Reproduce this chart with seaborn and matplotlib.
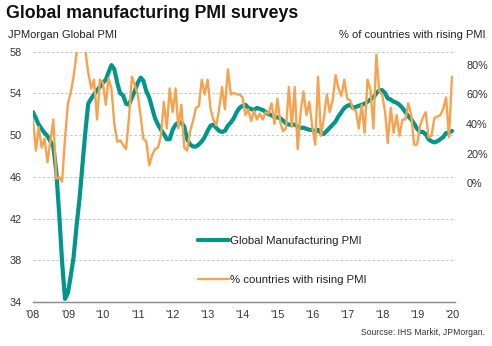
import matplotlib
matplotlib.use("Agg")
import matplotlib.pyplot as plt
import matplotlib.dates as mdates
from matplotlib.ticker import FuncFormatter, FixedLocator
import pandas as pd
import seaborn as sns

# Monthly series, Jan 2008 - Jan 2020
start_month = "2008-01-01"

pmi = [
    52.2, 51.6, 51.0, 50.6, 50.2, 49.9, 49.4, 48.9, 46.5, 42.5, 37.8, 34.3,
    34.9, 36.6, 38.3, 41.3, 43.8, 47.0, 50.2, 53.0, 53.5, 53.9, 54.3, 54.6,
    55.0, 55.3, 56.0, 56.7, 56.3, 55.0, 54.0, 53.8, 53.0, 52.9, 53.6, 54.2,
    55.0, 55.5, 55.2, 54.2, 53.6, 52.6, 51.6, 51.0, 50.5, 50.1, 49.6, 49.6,
    50.5, 51.0, 51.2, 51.2, 50.8, 49.6, 49.1, 48.9, 48.9, 49.1, 49.4, 49.8,
    50.4, 50.9, 51.0, 50.7, 50.4, 50.3, 50.4, 50.9, 51.2, 51.6, 52.2, 52.6,
    52.8, 52.9, 52.6, 52.5, 52.4, 52.6, 52.5, 52.4, 52.2, 52.0, 51.9, 51.7,
    51.7, 51.6, 51.4, 51.1, 51.0, 51.0, 51.0, 50.8, 50.7, 50.7, 50.6, 50.5,
    50.5, 50.3, 50.5, 50.2, 50.1, 50.4, 50.7, 51.0, 51.3, 51.8, 52.2, 52.6,
    52.8, 52.9, 52.6, 52.7, 52.8, 52.9, 53.0, 53.2, 53.4, 53.6, 54.0, 54.3,
    54.3, 54.0, 53.5, 53.4, 53.2, 53.1, 52.9, 52.6, 52.2, 51.8, 51.5, 51.1,
    50.6, 50.3, 50.3, 50.1, 49.6, 49.4, 49.3, 49.4, 49.6, 49.8, 50.2, 50.2,
    50.4,
]

rising_pct = [
    43, 22, 38, 24, 30, 14, 28, 43, 3, 4, 1, 30,
    54, 62, 72, 88, 96, 97, 90, 75, 64, 70, 43, 70,
    68, 53, 71, 64, 40, 28, 29, 26, 23, 44, 72, 66,
    60, 45, 30, 28, 12, 19, 23, 24, 32, 55, 37, 64,
    48, 64, 37, 53, 24, 22, 35, 42, 51, 52, 70, 60,
    70, 50, 43, 39, 50, 65, 50, 77, 60, 61, 60, 60,
    58, 46, 50, 42, 49, 43, 47, 43, 48, 47, 54, 40,
    57, 41, 35, 37, 65, 38, 65, 23, 48, 62, 46, 55,
    38, 26, 72, 32, 44, 60, 48, 56, 73, 64, 59, 70,
    57, 56, 50, 49, 37, 53, 34, 70, 63, 37, 87, 62,
    60, 48, 27, 51, 34, 46, 32, 43, 43, 54, 46, 26,
    26, 39, 44, 48, 31, 32, 44, 45, 46, 50, 58, 31,
    72,
]

left_ticks = [34, 38, 42, 46, 50, 54, 58]
right_ticks = [0, 20, 40, 60, 80]

TEAL = "#00978A"
ORANGE = "#F7A24E"
GRID = "#BDBDBD"
TXT = "#333333"

df = pd.DataFrame({
    "date": pd.date_range(start_month, periods=len(pmi), freq="MS"),
    "pmi": pmi,
    "rising": rising_pct,
})

sns.set_theme(style="white")
plt.rcParams["font.family"] = ["Liberation Sans", "DejaVu Sans"]

fig = plt.figure(figsize=(4.92, 3.46), dpi=100)
ax = fig.add_axes([0.067, 0.127, 0.858, 0.724])

sns.lineplot(data=df, x="date", y="pmi", ax=ax, color=TEAL, linewidth=3.0,
             label="Global Manufacturing PMI", legend=False)
ax.set_ylim(34, 58)
ax.set_xlim(pd.Timestamp("2008-01-01"), pd.Timestamp("2020-02-03"))
ax.yaxis.set_major_locator(FixedLocator(left_ticks))
ax.set_xlabel("")
ax.set_ylabel("")
for y in left_ticks[1:]:
    ax.axhline(y, color=GRID, lw=0.6, ls=(0, (3, 2.5)), zorder=0)

ax2 = ax.twinx()
sns.lineplot(data=df, x="date", y="rising", ax=ax2, color=ORANGE, linewidth=1.7,
             label="% countries with rising PMI", legend=False)
ax2.set_ylim(-80.5, 89)
ax2.yaxis.set_major_locator(FixedLocator(right_ticks))
ax2.yaxis.set_major_formatter(FuncFormatter(lambda v, p: f"{v:.0f}%"))
ax2.set_ylabel("")

ax.xaxis.set_major_locator(mdates.YearLocator())
ax.xaxis.set_major_formatter(mdates.DateFormatter("'%y"))

for a in (ax, ax2):
    for s in ("top", "left", "right"):
        a.spines[s].set_visible(False)
    a.spines["bottom"].set_color("#8C8C8C")
    a.spines["bottom"].set_linewidth(0.9)
    a.grid(False)

ax.tick_params(axis="y", length=0, pad=8, labelsize=7.8, labelcolor=TXT)
ax2.tick_params(axis="y", length=0, pad=8, labelsize=7.8, labelcolor=TXT)
ax.tick_params(axis="x", length=3, width=0.8, color="#8C8C8C", direction="out",
               pad=3, labelsize=7.8, labelcolor=TXT)

h1, l1 = ax.get_legend_handles_labels()
h2, l2 = ax2.get_legend_handles_labels()
leg = ax2.legend(h1 + h2, l1 + l2, loc="upper left",
                 bbox_to_anchor=(0.402, 0.318), bbox_transform=fig.transFigure,
                 frameon=False, fontsize=8.2, handlelength=2.7,
                 handletextpad=0.1, labelspacing=2.55, borderpad=0, borderaxespad=0)
for t in leg.get_texts():
    t.set_color("#222222")

fig.text(0.012, 0.962, "Global manufacturing PMI surveys", fontsize=12.8,
         fontweight="bold", color="#111111", va="center", ha="left")
fig.text(0.016, 0.900, "JPMorgan Global PMI", fontsize=8.0, color="#222222",
         va="center", ha="left")
fig.text(0.986, 0.900, "% of countries with rising PMI", fontsize=8.0,
         color="#222222", va="center", ha="right")
fig.text(0.986, 0.038, "Sourcse: IHS Markit, JPMorgan.", fontsize=6.2,
         color="#333333", va="center", ha="right")

fig.savefig("out.png", dpi=100)
